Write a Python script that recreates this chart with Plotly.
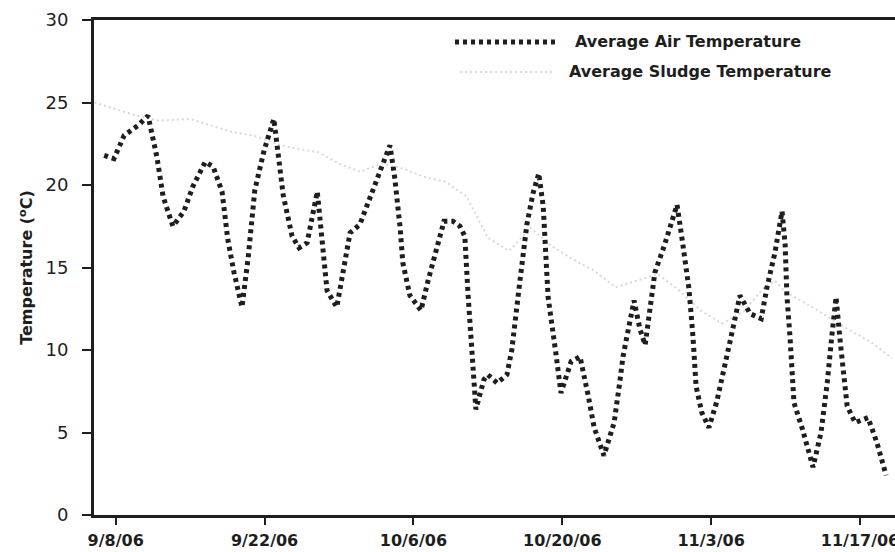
import plotly.graph_objects as go

# ---- data ----
air_dates = [
    "2006-09-06 22:00", "2006-09-07 20:00", "2006-09-08 19:00", "2006-09-10 02:00", "2006-09-11 01:00",
    "2006-09-11 21:00", "2006-09-12 11:00", "2006-09-13 09:00", "2006-09-14 10:00", "2006-09-15 06:00",
    "2006-09-16 10:00", "2006-09-17 04:00", "2006-09-18 00:00", "2006-09-18 13:00", "2006-09-19 03:00",
    "2006-09-19 21:00", "2006-09-20 11:00", "2006-09-21 02:00", "2006-09-21 23:00", "2006-09-22 21:00",
    "2006-09-23 18:00", "2006-09-24 14:00", "2006-09-25 06:00", "2006-09-26 00:00", "2006-09-26 23:00",
    "2006-09-27 12:00", "2006-09-27 21:00", "2006-09-28 19:00", "2006-09-30 01:00", "2006-09-30 23:00",
    "2006-10-02 05:00", "2006-10-02 23:00", "2006-10-03 19:00", "2006-10-04 06:00", "2006-10-04 18:00",
    "2006-10-05 00:00", "2006-10-05 16:00", "2006-10-06 17:00", "2006-10-07 09:00", "2006-10-08 01:00",
    "2006-10-08 21:00", "2006-10-09 17:00", "2006-10-10 09:00", "2006-10-10 20:00", "2006-10-11 03:00",
    "2006-10-11 21:00", "2006-10-12 15:00", "2006-10-13 00:00", "2006-10-13 21:00", "2006-10-14 19:00",
    "2006-10-15 06:00", "2006-10-16 00:00", "2006-10-16 16:00", "2006-10-17 06:00", "2006-10-17 19:00",
    "2006-10-18 05:00", "2006-10-18 11:00", "2006-10-18 16:00", "2006-10-19 10:00", "2006-10-19 21:00",
    "2006-10-20 20:00", "2006-10-21 16:00", "2006-10-22 10:00", "2006-10-23 00:00", "2006-10-23 22:00",
    "2006-10-24 21:00", "2006-10-25 10:00", "2006-10-25 17:00", "2006-10-26 18:00", "2006-10-27 07:00",
    "2006-10-27 19:00", "2006-10-28 08:00", "2006-10-28 17:00", "2006-10-29 14:00", "2006-10-30 19:00",
    "2006-10-31 06:00", "2006-10-31 22:00", "2006-11-01 07:00", "2006-11-01 14:00", "2006-11-02 03:00",
    "2006-11-02 19:00", "2006-11-03 13:00", "2006-11-04 10:00", "2006-11-04 21:00", "2006-11-05 17:00",
    "2006-11-06 16:00", "2006-11-07 17:00", "2006-11-08 06:00", "2006-11-09 00:00", "2006-11-09 16:00",
    "2006-11-09 23:00", "2006-11-10 03:00", "2006-11-10 10:00", "2006-11-10 19:00", "2006-11-11 13:00",
    "2006-11-12 14:00", "2006-11-13 08:00", "2006-11-13 22:00", "2006-11-14 09:00", "2006-11-14 18:00",
    "2006-11-15 03:00", "2006-11-15 10:00", "2006-11-15 19:00", "2006-11-16 13:00", "2006-11-17 18:00",
    "2006-11-18 14:00", "2006-11-19 11:00",
]
air_temp = [
    21.8, 21.6, 23.0, 23.6, 24.2,
    21.7, 19.3, 17.5, 18.4, 19.9,
    21.4, 21.1, 19.6, 16.7, 14.7,
    12.6, 15.6, 19.7, 22.1, 24.0,
    19.4, 16.9, 16.2, 16.5, 19.6,
    16.0, 13.6, 12.6, 17.1, 17.6,
    19.6, 21.0, 22.4, 20.4, 17.4,
    15.3, 13.3, 12.4, 14.2, 15.8,
    17.8, 17.8, 17.5, 16.9, 13.5,
    6.4, 8.2, 8.5, 8.0, 8.5,
    10.0, 14.1, 17.6, 19.5, 20.7,
    18.7, 15.7, 13.2, 9.7, 7.4,
    9.3, 9.6, 7.3, 5.3, 3.6,
    5.6, 8.1, 9.6, 13.0, 11.3,
    10.3, 12.7, 14.7, 16.3, 18.8,
    16.8, 13.7, 10.8, 7.8, 6.2,
    5.3, 6.9, 9.3, 10.8, 13.3,
    12.2, 11.9, 13.8, 15.9, 18.4,
    16.4, 13.3, 10.8, 6.8, 5.3,
    2.9, 5.0, 8.0, 11.0, 13.2,
    10.6, 8.6, 6.6, 5.6, 5.9,
    4.4, 2.4,
]

sludge_dates = [
    "2006-09-06", "2006-09-07", "2006-09-08", "2006-09-10", "2006-09-12", "2006-09-15",
    "2006-09-17", "2006-09-19", "2006-09-21", "2006-09-23", "2006-09-25", "2006-09-27",
    "2006-09-29", "2006-10-01", "2006-10-03", "2006-10-05", "2006-10-07", "2006-10-09",
    "2006-10-11", "2006-10-12", "2006-10-13", "2006-10-15", "2006-10-17", "2006-10-19",
    "2006-10-21", "2006-10-23", "2006-10-25", "2006-10-27", "2006-10-29", "2006-10-31",
    "2006-11-02", "2006-11-04", "2006-11-06", "2006-11-08", "2006-11-09", "2006-11-10",
    "2006-11-12", "2006-11-14", "2006-11-16", "2006-11-18", "2006-11-20",
]
sludge_temp = [
    25.0, 24.8, 24.6, 24.2, 23.9, 24.0,
    23.6, 23.2, 23.0, 22.5, 22.2, 22.0,
    21.3, 20.8, 21.3, 21.0, 20.5, 20.2,
    19.3, 18.0, 16.8, 16.0, 17.4, 16.3,
    15.5, 14.8, 13.8, 14.2, 14.6, 13.6,
    12.4, 11.6, 12.3, 13.8, 14.2, 13.5,
    12.8, 12.0, 11.2, 10.5, 9.5,
]

tick_dates = ["2006-09-08", "2006-09-22", "2006-10-06", "2006-10-20", "2006-11-03", "2006-11-17"]
tick_labels = ["9/8/06", "9/22/06", "10/6/06", "10/20/06", "11/3/06", "11/17/06"]
y_ticks = [0, 5, 10, 15, 20, 25, 30]

series_names = ["Average Air Temperature", "Average Sludge Temperature"]

FONT = "DejaVu Sans"
AIR_DASH = "4px,4px"
AIR_WIDTH = 5
SLUDGE_DASH = "2px,3px"
SLUDGE_COLOR = "#d8d8d8"
INK = "#1e1e1e"

fig = go.Figure()
fig.add_trace(go.Scatter(
    x=sludge_dates, y=sludge_temp, mode="lines", name=series_names[1],
    line=dict(color=SLUDGE_COLOR, width=2, dash=SLUDGE_DASH), showlegend=False,
))
fig.add_trace(go.Scatter(
    x=air_dates, y=air_temp, mode="lines", name=series_names[0],
    line=dict(color=INK, width=AIR_WIDTH, dash=AIR_DASH), showlegend=False,
))

# legend drawn as line samples + labels
fig.add_shape(type="line", xref="paper", yref="paper", x0=0.4507, x1=0.5755, y0=0.9556, y1=0.9556,
              line=dict(color=INK, width=AIR_WIDTH, dash=AIR_DASH))
fig.add_shape(type="line", xref="paper", yref="paper", x0=0.457, x1=0.5755, y0=0.895, y1=0.895,
              line=dict(color=SLUDGE_COLOR, width=2, dash=SLUDGE_DASH))
fig.add_annotation(xref="paper", yref="paper", x=0.598, y=0.9556, xanchor="left", yanchor="middle",
                   text=series_names[0], showarrow=False,
                   font=dict(family=FONT, size=16, color=INK, weight="bold"))
fig.add_annotation(xref="paper", yref="paper", x=0.5905, y=0.895, xanchor="left", yanchor="middle",
                   text=series_names[1], showarrow=False,
                   font=dict(family=FONT, size=16, color=INK, weight="bold"))

fig.update_layout(
    width=895, height=552,
    margin=dict(l=94, r=0, t=20, b=37, autoexpand=False),
    paper_bgcolor="white", plot_bgcolor="white",
    font=dict(family=FONT, color=INK),
)
fig.update_xaxes(
    type="date", range=["2006-09-05 23:00", "2006-11-20 07:00"],
    tickvals=tick_dates, ticktext=tick_labels,
    tickfont=dict(family=FONT, size=16, color=INK, weight="bold"),
    ticks="outside", ticklen=7, tickwidth=2, tickcolor=INK,
    showline=True, linewidth=3, linecolor=INK, mirror=True,
    showgrid=False, zeroline=False, ticklabelstandoff=2,
    ticklabeloverflow="allow",
)
fig.update_yaxes(
    range=[0, 30], tickvals=y_ticks,
    tickfont=dict(family=FONT, size=18, color=INK),
    ticks="outside", ticklen=9, tickwidth=2, tickcolor=INK,
    showline=True, linewidth=3, linecolor=INK, mirror=False,
    showgrid=False, zeroline=False, ticklabelstandoff=10,
    title=dict(text="Temperature (<sup>o</sup>C)", standoff=9,
               font=dict(family=FONT, size=16, color=INK, weight="bold")),
)

fig.write_html("out.html")
